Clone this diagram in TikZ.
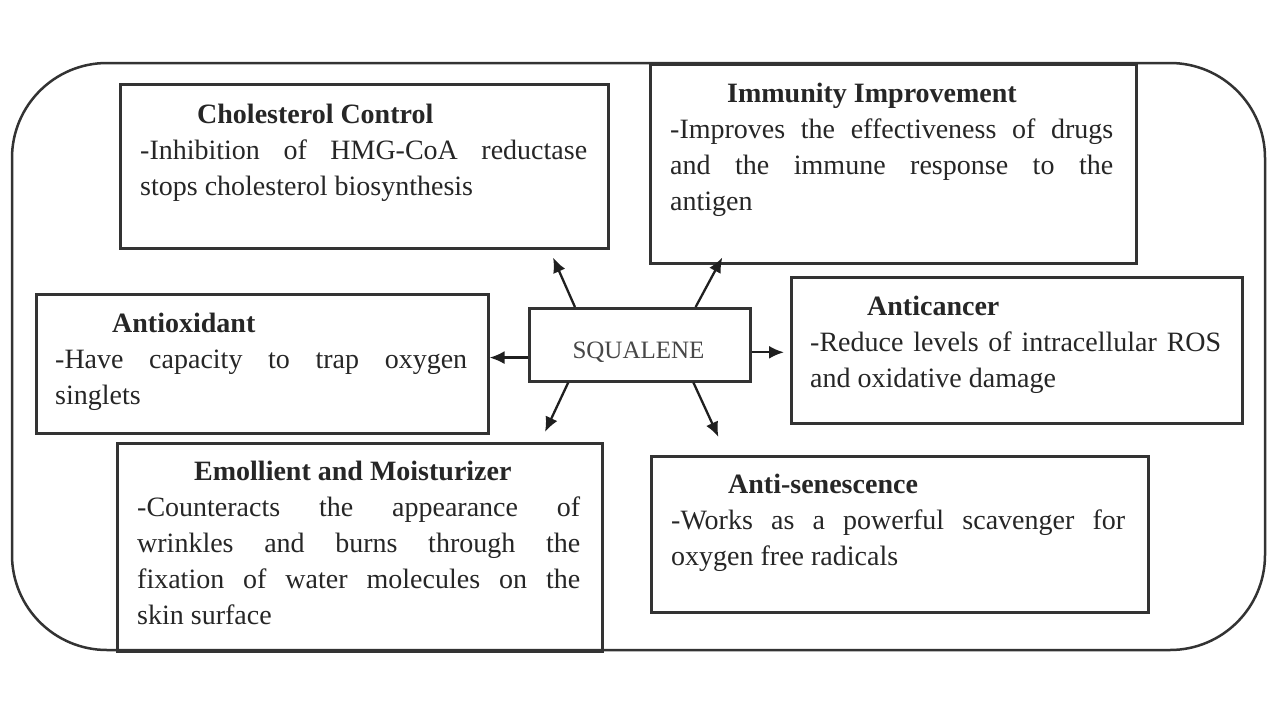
\documentclass[tikz,border=0pt]{standalone}
\usepackage{fontspec}
\setmainfont{Liberation Serif}
\usetikzlibrary{arrows.meta,calc}
\newcommand{\jln}[1]{\makebox[\linewidth][s]{#1}}
\newcommand{\ttl}[1]{\hspace*{57pt}\textbf{#1}}
\tikzset{
  frame/.style={draw=black!80,line width=2.5pt,rounded corners=95pt},
  box/.style={draw=black!80,line width=2.5pt,rectangle,inner sep=0pt,anchor=north west},
  txt/.style={anchor=base west,inner sep=0pt,text=black!85,font=\fontsize{28}{36}\selectfont},
  link/.style={draw=black!88,line width=2.3pt,-{Latex[length=15pt,width=13pt]}},
}
\begin{document}
\begin{tikzpicture}[x=1pt,y=-1pt]
\fill[white] (0,0) rectangle (1280,720);
\useasboundingbox (0,0) rectangle (1280,720);
% outer frame
\draw[frame] (12,63) rectangle (1265,650);
% boxes
\node[box,minimum width=488pt,minimum height=164pt] (chol) at (119,83) {};
\node[box,minimum width=486pt,minimum height=199pt] (imm) at (649,63) {};
\node[box,minimum width=452pt,minimum height=139pt] (antiox) at (35,293) {};
\node[box,minimum width=221pt,minimum height=73pt] (sq) at (528,307) {};
\node[box,minimum width=451pt,minimum height=146pt] (canc) at (790,276) {};
\node[box,minimum width=485pt,minimum height=208pt] (emo) at (116,442) {};
\node[box,minimum width=497pt,minimum height=156pt] (sen) at (650,455) {};
% texts
\node[txt] (tchol) at (140,123) {\parbox[t]{447pt}{\ttl{Cholesterol Control}\\
\jln{-Inhibition of HMG-CoA reductase}\\
stops cholesterol biosynthesis}};
\node[txt] (timm) at (670,102) {\parbox[t]{443pt}{\ttl{Immunity Improvement}\\
\jln{-Improves the effectiveness of drugs}\\
\jln{and the immune response to the}\\
antigen}};
\node[txt] (tantiox) at (55,332) {\parbox[t]{412pt}{\ttl{Antioxidant}\\
\jln{-Have capacity to trap oxygen}\\
singlets}};
\node[txt] (tcanc) at (810,315) {\parbox[t]{411pt}{\ttl{Anticancer}\\
\jln{-Reduce levels of intracellular ROS}\\
and oxidative damage}};
\node[txt] (temo) at (137,480) {\parbox[t]{443pt}{\ttl{Emollient and Moisturizer}\\
\jln{-Counteracts the appearance of}\\
\jln{wrinkles and burns through the}\\
\jln{fixation of water molecules on the}\\
skin surface}};
\node[txt] (tsen) at (671,493) {\parbox[t]{454pt}{\ttl{Anti-senescence}\\
\jln{-Works as a powerful scavenger for}\\
oxygen free radicals}};
\node[anchor=base,inner sep=0pt,text=black!72,font=\fontsize{25}{30}\selectfont] (sqt) at (638.5,358) {SQUALENE};
% arrow tips
\coordinate (e1) at ($(chol.south west)!0.885!(chol.south east)+(0,8)$);
\coordinate (e2) at ($(imm.south west)!0.150!(imm.south east)+(0,-7)$);
\coordinate (s3) at ($(sq.south west)!0.33!(sq.north west)$);
\coordinate (s4) at ($(sq.south east)!0.40!(sq.north east)$);
\coordinate (e5) at ($(emo.north west)!0.880!(emo.north east)+(0,-10)$);
\coordinate (e6) at ($(sen.north west)!0.137!(sen.north east)+(0,-18)$);
% connectors
\draw[link] ($(sq.north west)!0.21!(sq.north east)$) -- (e1);
\draw[link] ($(sq.north west)!0.75!(sq.north east)$) -- (e2);
\draw[link] (s3) -- (s3 -| antiox.east);
\draw[link,shorten >=6pt] (s4) -- (s4 -| canc.west);
\draw[link] ($(sq.south west)!0.18!(sq.south east)$) -- (e5);
\draw[link] ($(sq.south west)!0.74!(sq.south east)$) -- (e6);
\end{tikzpicture}
\end{document}
